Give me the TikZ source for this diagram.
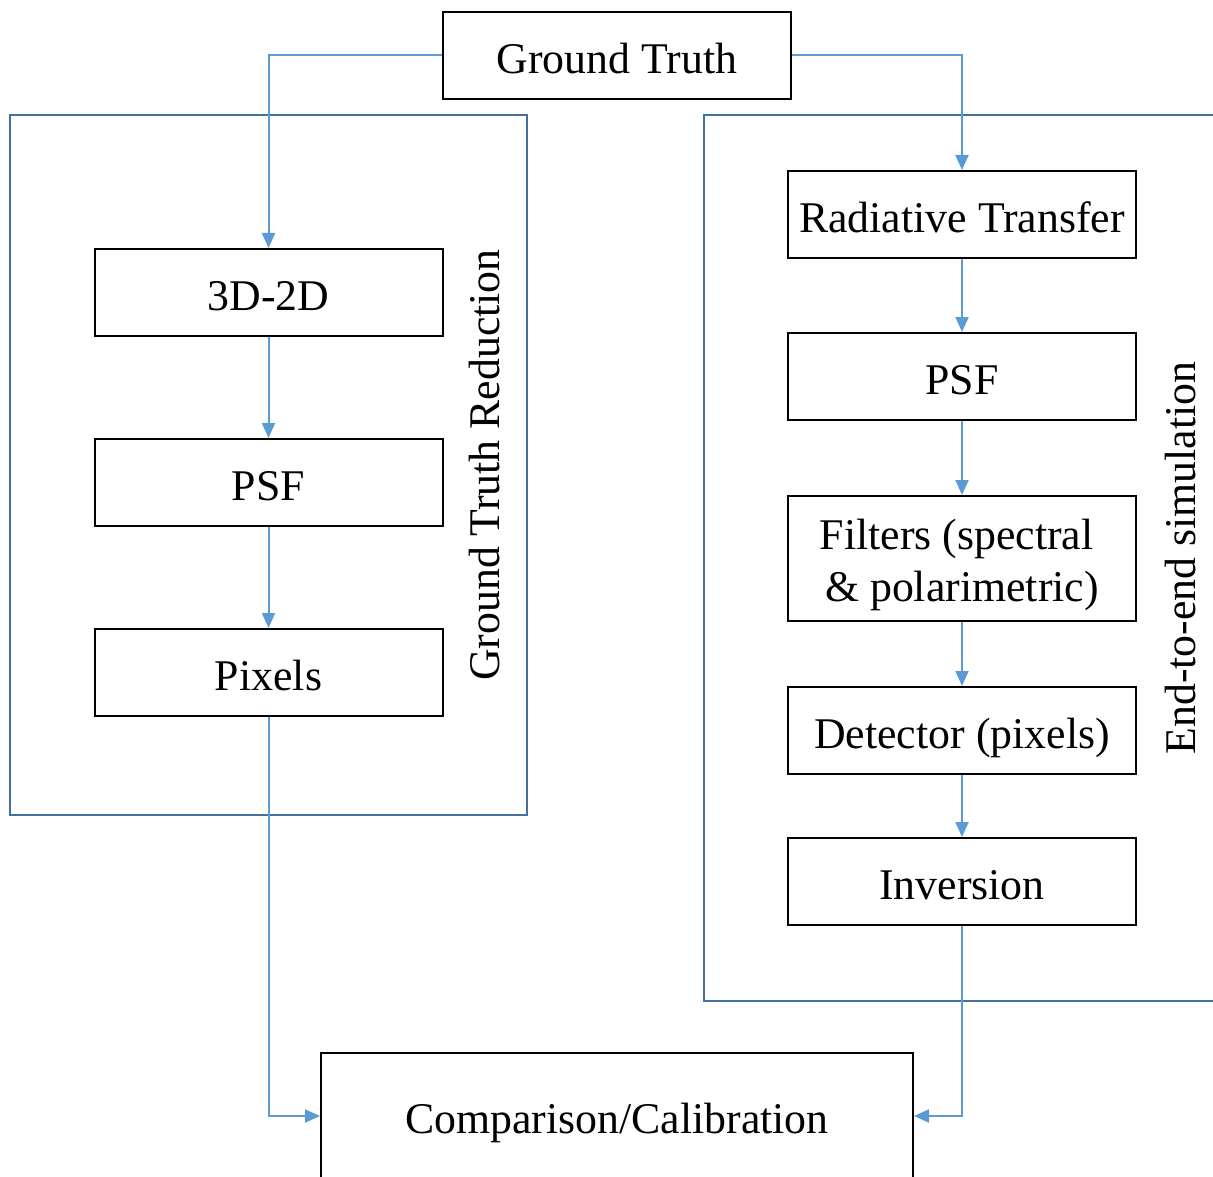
\documentclass[tikz,border=0pt]{standalone}
\usepackage{fontspec}
\setmainfont{Liberation Serif}
\usetikzlibrary{arrows.meta}
\definecolor{linkblue}{HTML}{5B9BD5}
\definecolor{groupblue}{HTML}{41719C}
\begin{document}
\begin{tikzpicture}[x=0.5pt,y=-0.5pt,
  boxfont/.style={font=\fontsize{21.9}{26}\selectfont},
  stepbox/.style={draw=black,line width=1pt,minimum width=174pt,minimum height=43.5pt,
    inner sep=0pt,boxfont,fill=white,text height=17.6pt,text depth=0pt},
  tallbox/.style={draw=black,line width=1pt,minimum width=174pt,
    inner sep=0pt,boxfont,fill=white,text height=22pt,text depth=31.5pt},
  groupframe/.style={draw=groupblue,line width=1.2pt},
  link/.style={draw=linkblue,line width=1pt,-{Triangle[length=7.5pt,width=6.5pt]}},
  grouplabel/.style={boxfont,rotate=90,inner sep=0pt}]
\useasboundingbox (0,0) rectangle (1213,1176);
\clip (0,0) rectangle (1213,1176);

% group frames
\draw[groupframe] (10,115) rectangle (527,815);
\draw[groupframe] (704,115) rectangle (1240,1001);

% top source
\node[stepbox] (gt) at (617,55.5) {Ground Truth};

% left chain
\node[stepbox] (proj) at (268.5,292.5) {3D-2D};
\node[stepbox] (psfl) at (268.5,482.5) {PSF};
\node[stepbox] (pix)  at (268.5,672.5) {Pixels};

% right chain
\node[stepbox] (rt)   at (962,214.5) {Radiative Transfer};
\node[stepbox] (psfr) at (962,376.5) {PSF};
\node[tallbox,minimum height=62.5pt] (filt) at (962,558.5)
  {\begin{tabular}[t]{@{}c@{}}Filters (spectral\hspace*{0.25em}\\ \& polarimetric)\end{tabular}};
\node[stepbox] (det)  at (962,730.5) {Detector (pixels)};
\node[stepbox] (inv)  at (962,881.5) {Inversion};

% bottom target
\node[stepbox,minimum width=296pt,minimum height=63pt] (cmp) at (617,1116) {Comparison/Calibration};

% group labels
\node[grouplabel] (lblL) at (485,465) {Ground Truth Reduction};
\node[grouplabel] (lblR) at (1180,558) {End-to-end simulation};

% connectors
\draw[link] (gt.west) -| (proj.north);
\draw[link] (gt.east) -| (rt.north);
\draw[link] (proj) -- (psfl);
\draw[link] (psfl) -- (pix);
\draw[link] (rt) -- (psfr);
\draw[link] (psfr) -- (filt);
\draw[link] (filt) -- (det);
\draw[link] (det) -- (inv);
\draw[link] (pix.south) |- (cmp.west);
\draw[link] (inv.south) |- (cmp.east);
\end{tikzpicture}
\end{document}
